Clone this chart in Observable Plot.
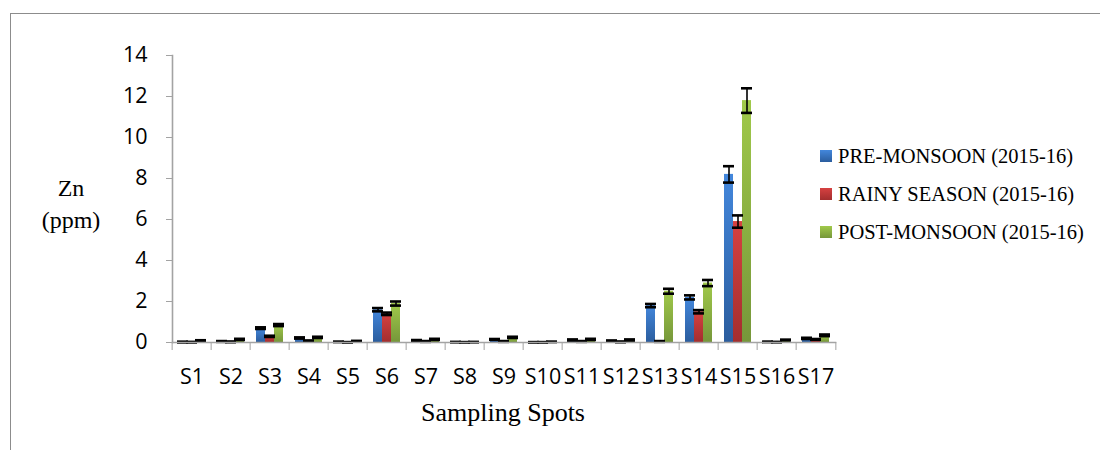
<!DOCTYPE html>
<html><head><meta charset="utf-8">
<script src="https://cdn.jsdelivr.net/npm/d3@7"></script>
<script src="https://cdn.jsdelivr.net/npm/@observablehq/plot@0.6"></script>
<style>
body{margin:0;background:#fff;}
#wrap{position:relative;width:1100px;height:450px;overflow:hidden;background:#fff;}
#border{position:absolute;left:10px;top:13px;width:1200px;height:600px;border:1px solid #8c8c8c;}
#chart{position:absolute;left:0;top:0;}
.serif{font-family:"Liberation Serif","Times New Roman",serif;color:#000;}
#ytitle{position:absolute;left:21px;top:172px;width:100px;text-align:center;font-size:24px;line-height:32px;}
#xtitle{position:absolute;left:343px;top:398px;width:320px;text-align:center;font-size:26px;}
#legend{position:absolute;left:820px;top:137px;font-size:20.5px;}
.item{display:flex;align-items:center;height:38px;white-space:nowrap;}
.sw{width:12px;height:12px;margin-right:6px;}
</style></head>
<body>
<div id="wrap">
  <div id="border"></div>
  <div id="chart"></div>
  <div id="ytitle" class="serif">Zn<br>(ppm)</div>
  <div id="xtitle" class="serif">Sampling Spots</div>
  <div id="legend" class="serif"></div>
</div>
<script>
const sites = ["S1","S2","S3","S4","S5","S6","S7","S8","S9","S10","S11","S12","S13","S14","S15","S16","S17"];
const seasons = ["PRE-MONSOON (2015-16)","RAINY SEASON (2015-16)","POST-MONSOON (2015-16)"];
const preMonsoon  = [0.02,0.05,0.70,0.22,0.03,1.60,0.10,0.02,0.15,0.01,0.12,0.08,1.80,2.20,8.20,0.03,0.20];
const rainySeason = [0.01,0.03,0.30,0.08,0.01,1.40,0.05,0.01,0.05,0.01,0.05,0.03,0.05,1.50,5.90,0.02,0.15];
const postMonsoon = [0.08,0.15,0.85,0.25,0.06,1.90,0.15,0.02,0.25,0.03,0.15,0.12,2.50,2.90,11.80,0.12,0.35];
const preErr   = [0.02,0.02,0.04,0.03,0.01,0.08,0.02,0.01,0.02,0.01,0.03,0.02,0.08,0.10,0.40,0.01,0.03];
const rainyErr = [0.02,0.02,0.03,0.02,0.01,0.06,0.02,0.01,0.02,0.01,0.02,0.02,0.02,0.08,0.30,0.01,0.02];
const postErr  = [0.03,0.03,0.05,0.03,0.02,0.10,0.03,0.01,0.03,0.01,0.03,0.03,0.12,0.15,0.60,0.02,0.04];
const yTicks = [0,2,4,6,8,10,12,14];
const gradTop    = ["#4387dc","#d64141","#a0c94a"];
const gradBottom = ["#2b5d9e","#a32e2e","#76973a"];

const seriesVals = [preMonsoon, rainySeason, postMonsoon];
const seriesErr = [preErr, rainyErr, postErr];
const rows = [];
sites.forEach((s, i) => seasons.forEach((se, k) => rows.push({site: s, season: se, value: seriesVals[k][i], err: seriesErr[k][i]})));

const W = 1100, H = 450, mL = 166, mR = 259, mT = 55, mB = 108;
const bandW = (W - mL - mR) / sites.length;
const axisGray = "#a3a3a3";

const plot = Plot.plot({
  width: W, height: H,
  marginLeft: mL, marginRight: mR, marginTop: mT, marginBottom: mB,
  fx: {domain: sites, padding: 0, label: null},
  x: {domain: seasons, paddingInner: 0, paddingOuter: 0.55, axis: null},
  y: {domain: [0, 14], label: null},
  color: {domain: seasons, range: seasons.map((_, k) => `url(#grad${k})`)},
  style: {fontFamily: "'Open Sans', Lato, sans-serif", fontSize: "21.5px", color: "#000", background: "transparent", overflow: "visible"},
  marks: [
    Plot.barY(rows, {fx: "site", x: "season", y: "value", fill: "season"}),
    Plot.ruleX(rows, {fx: "site", x: "season", y1: d => Math.max(0, d.value - d.err), y2: d => d.value + d.err, stroke: "#000", strokeWidth: 1.6}),
    Plot.tickY(rows, {fx: "site", x: "season", y: d => d.value + d.err, stroke: "#000", strokeWidth: 2.6, insetLeft: -1, insetRight: -1}),
    Plot.tickY(rows, {fx: "site", x: "season", y: d => Math.max(0, d.value - d.err), stroke: "#000", strokeWidth: 2.6, insetLeft: -1, insetRight: -1}),
    Plot.frame({anchor: "left", facet: "super", stroke: axisGray, strokeWidth: 1.6}),
    Plot.frame({anchor: "bottom", facet: "super", stroke: axisGray, strokeWidth: 1.6}),
    Plot.axisY({ticks: yTicks, tickSize: 6, tickPadding: 19, stroke: axisGray, label: null}),
    Plot.axisFx({anchor: "bottom", tickSize: 8, text: null, stroke: axisGray, dx: -bandW / 2, label: null}),
    Plot.axisFx({anchor: "bottom", ticks: [sites[sites.length - 1]], tickSize: 8, text: null, stroke: axisGray, dx: bandW / 2, label: null}),
    Plot.axisFx({anchor: "bottom", tickSize: 0, tickPadding: 26, label: null})
  ]
});

const svg = d3.select(plot);
const defs = svg.insert("defs", ":first-child");
seasons.forEach((_, k) => {
  const g = defs.append("linearGradient").attr("id", `grad${k}`).attr("x1", 0).attr("y1", 0).attr("x2", 0).attr("y2", 1);
  g.append("stop").attr("offset", "0%").attr("stop-color", gradTop[k]);
  g.append("stop").attr("offset", "100%").attr("stop-color", gradBottom[k]);
});
document.getElementById("chart").appendChild(plot);

const legend = d3.select("#legend");
seasons.forEach((s, k) => {
  const it = legend.append("div").attr("class", "item");
  it.append("div").attr("class", "sw").style("background", `linear-gradient(${gradTop[k]}, ${gradBottom[k]})`);
  it.append("span").text(s);
});
</script>
</body></html>
